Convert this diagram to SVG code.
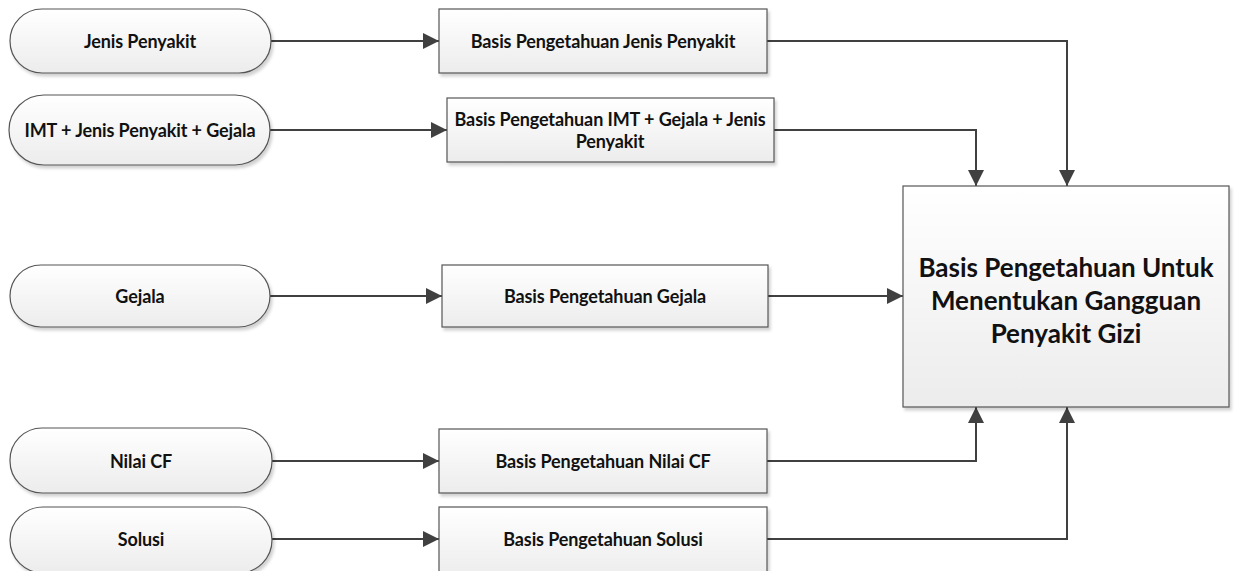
<svg xmlns="http://www.w3.org/2000/svg" width="1238" height="571" viewBox="0 0 1238 571">
  <defs>
    <linearGradient id="fillGrad" x1="0" y1="0" x2="0" y2="1">
      <stop offset="0" stop-color="#ffffff"/>
      <stop offset="1" stop-color="#ececec"/>
    </linearGradient>
    <filter id="shadow" x="-5%" y="-10%" width="110%" height="125%">
      <feDropShadow dx="2" dy="3" stdDeviation="1.5" flood-color="#000" flood-opacity="0.18"/>
    </filter>
    <marker id="arrowBig" viewBox="0 0 12 12" refX="12" refY="6" markerWidth="16" markerHeight="16" orient="auto" markerUnits="userSpaceOnUse">
      <path d="M0,0 L12,6 L0,12 z" fill="#404040"/>
    </marker>
  </defs>
  <style>
    .shape { fill: url(#fillGrad); stroke: #555555; stroke-width: 1.2; filter: url(#shadow); }
    .lbl { font-family: Lato, "Open Sans", "Liberation Sans", sans-serif; font-weight: bold; font-size: 18px; fill: #111111; text-anchor: middle; dominant-baseline: central; letter-spacing: -0.1px; }
    .big { font-size: 26px; letter-spacing: 0; }
    .conn { fill: none; stroke: #404040; stroke-width: 2; marker-end: url(#arrowBig); }
  </style>

  <!-- connectors -->
  <g id="connectors">
    <path class="conn" d="M271,41 H439"/>
    <path class="conn" d="M270,130 H447"/>
    <path class="conn" d="M270,296 H442"/>
    <path class="conn" d="M272,461 H439"/>
    <path class="conn" d="M272,539 H439"/>
    <path class="conn" d="M767,41 H1067 V186"/>
    <path class="conn" d="M774,130 H976 V186"/>
    <path class="conn" d="M768,296 H903"/>
    <path class="conn" d="M767,461 H976 V407"/>
    <path class="conn" d="M767,539 H1067 V407"/>
  </g>

  <!-- input terminals -->
  <g id="in-jenis">
    <rect class="shape" x="10" y="9" width="261" height="64" rx="32" ry="32"/>
    <text class="lbl" x="140" y="41">Jenis Penyakit</text>
  </g>
  <g id="in-imt">
    <rect class="shape" x="9" y="95" width="261" height="70" rx="35" ry="35"/>
    <text class="lbl" x="140" y="130">IMT + Jenis Penyakit + Gejala</text>
  </g>
  <g id="in-gejala">
    <rect class="shape" x="10" y="265" width="260" height="62" rx="31" ry="31"/>
    <text class="lbl" x="140" y="296">Gejala</text>
  </g>
  <g id="in-cf">
    <rect class="shape" x="10" y="428" width="262" height="65" rx="32" ry="32"/>
    <text class="lbl" x="141" y="461">Nilai CF</text>
  </g>
  <g id="in-solusi">
    <rect class="shape" x="10" y="507" width="262" height="66" rx="33" ry="33"/>
    <text class="lbl" x="141" y="539">Solusi</text>
  </g>

  <!-- knowledge bases -->
  <g id="kb-jenis">
    <rect class="shape" x="439" y="9" width="328" height="64"/>
    <text class="lbl" x="603" y="41">Basis Pengetahuan Jenis Penyakit</text>
  </g>
  <g id="kb-imt">
    <rect class="shape" x="447" y="98" width="327" height="64"/>
    <text class="lbl" x="610" y="119">Basis Pengetahuan IMT + Gejala + Jenis</text>
    <text class="lbl" x="610" y="141">Penyakit</text>
  </g>
  <g id="kb-gejala">
    <rect class="shape" x="442" y="265" width="326" height="62"/>
    <text class="lbl" x="605" y="296">Basis Pengetahuan Gejala</text>
  </g>
  <g id="kb-cf">
    <rect class="shape" x="439" y="429" width="328" height="64"/>
    <text class="lbl" x="603" y="461">Basis Pengetahuan Nilai CF</text>
  </g>
  <g id="kb-solusi">
    <rect class="shape" x="439" y="507" width="328" height="70"/>
    <text class="lbl" x="603" y="539">Basis Pengetahuan Solusi</text>
  </g>

  <!-- combined knowledge base -->
  <g id="kb-main">
    <rect class="shape" x="903" y="186" width="326" height="221"/>
    <text class="lbl big" x="1066" y="267">Basis Pengetahuan Untuk</text>
    <text class="lbl big" x="1066" y="300">Menentukan Gangguan</text>
    <text class="lbl big" x="1066" y="333">Penyakit Gizi</text>
  </g>
</svg>
